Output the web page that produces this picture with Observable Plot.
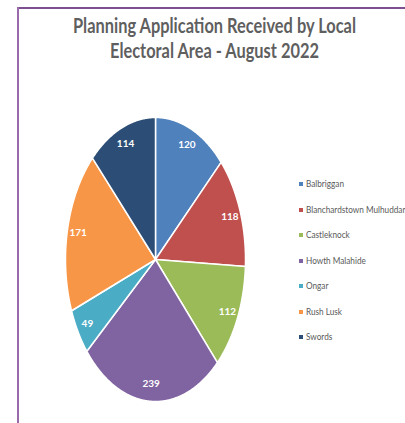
<!DOCTYPE html>
<html><head><meta charset="utf-8">
<script src="https://cdn.jsdelivr.net/npm/d3@7"></script>
<script src="https://cdn.jsdelivr.net/npm/@observablehq/plot@0.6"></script>
<style>
body{margin:0;background:#fff;}
#wrap{position:relative;width:405px;height:423px;overflow:hidden;font-family:Lato,"Open Sans",sans-serif;}
#chart{position:absolute;left:0;top:0;}
.frameTop{position:absolute;left:17px;top:7px;width:400px;height:2px;background:#7d4f90;}
.frameLeft{position:absolute;left:17px;top:7px;width:2px;height:420px;background:#9a6aac;}
.tl{position:absolute;white-space:nowrap;color:#5f5f5f;font-size:21px;font-weight:bold;line-height:26px;transform-origin:0 0;}
#legend{position:absolute;left:299px;top:177px;color:#595959;font-size:10px;}
.item{height:25.5px;display:flex;align-items:flex-start;white-space:nowrap;}
.sw{width:4px;height:4px;margin-right:3px;margin-top:5px;flex:none;}
.lt{display:inline-block;transform-origin:0 0;}
</style></head><body>
<div id="wrap">
  <div id="chart"></div>
  <div class="frameTop"></div>
  <div class="frameLeft"></div>
  <div id="title"></div>
  <div id="legend"></div>
</div>
<script>
const areas = ["Balbriggan","Blanchardstown Mulhuddart","Castleknock","Howth Malahide","Ongar","Rush Lusk","Swords"];
const legendLabels = ["Balbriggan","Blanchardstown Mulhuddar","Castleknock","Howth Malahide","Ongar","Rush Lusk","Swords"];
const counts = [120,118,112,239,49,171,114];
const colors = ["#4F81BD","#C0504D","#9BBB59","#8064A2","#4BACC6","#F79646","#2C4D75"];
const titleLines = ["Planning Application Received by Local","Electoral Area - August 2022"];

const wrap = document.getElementById("wrap");
// title lines, horizontally condensed like Calibri
const tEls = titleLines.map((t,i)=>{
  const e=document.createElement("div"); e.className="tl"; e.textContent=t; e.style.top=(12+i*25)+"px";
  wrap.appendChild(e); return e;
});
const sx = 283/tEls[0].getBoundingClientRect().width;
tEls.forEach(e=>{
  const w=e.getBoundingClientRect().width*sx;
  e.style.left=(214-w/2)+"px";
  e.style.transform=`scaleX(${sx})`;
});

const leg = document.getElementById("legend");
legendLabels.forEach((l,i)=>{
  const d = document.createElement("div"); d.className="item";
  const s = document.createElement("div"); s.className="sw"; s.style.background=colors[i];
  const t = document.createElement("span"); t.className="lt"; t.textContent=l; t.style.transform="scaleX(0.82)";
  d.appendChild(s); d.appendChild(t); leg.appendChild(d);
});

const arcs = d3.pie().sort(null).value(d=>d)(counts);
const pts = [];
arcs.forEach((a,i)=>{
  pts.push({area:areas[i], x:0, y:0});
  const n = Math.max(2, Math.ceil((a.endAngle-a.startAngle)/0.01));
  for(let k=0;k<=n;k++){
    const t = a.startAngle + (a.endAngle-a.startAngle)*k/n;
    pts.push({area:areas[i], x:Math.sin(t), y:Math.cos(t)});
  }
});
const labels = arcs.map((a,i)=>{
  const m=(a.startAngle+a.endAngle)/2;
  return {x:0.88*Math.sin(m), y:0.88*Math.cos(m), text:String(counts[i])};
});

const plot = Plot.plot({
  width:405, height:423, margin:0,
  style:{background:"transparent"},
  x:{domain:[-1,1], range:[65,245], axis:null},
  y:{domain:[-1,1], range:[401,117], axis:null},
  color:{domain:areas, range:colors},
  marks:[
    Plot.line(pts,{x:"x",y:"y",z:"area",fill:"area",stroke:"white",strokeWidth:1.5,curve:"linear-closed"}),
    Plot.text(labels,{x:"x",y:"y",text:"text",fill:"white",fontSize:10,fontWeight:"bold",fontFamily:"Lato"})
  ]
});
document.getElementById("chart").appendChild(plot);
</script>
</body></html>
